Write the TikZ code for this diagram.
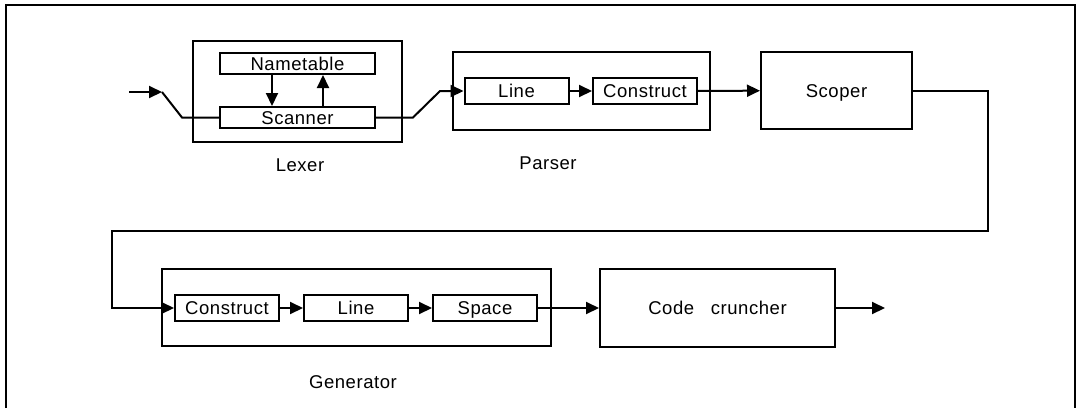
\documentclass[tikz,border=0pt]{standalone}
\usepackage{fontspec}
\setmainfont[LetterSpace=3]{Liberation Sans}
\usetikzlibrary{arrows.meta}
\tikzset{
	box/.style={draw, line width=2pt, inner sep=0pt, anchor=center,
		text height=13pt, text depth=0pt},
	lbl/.style={inner sep=0pt, anchor=center, text height=13pt, text depth=0pt},
	flow/.style={line width=2pt, -{Triangle[length=13pt,width=12pt]}},
	wire/.style={line width=2pt}
}
\begin{document}
\begin{tikzpicture}[x=1pt, y=-1pt, font=\fontsize{18.5}{20}\selectfont]
		\useasboundingbox (0,0) rectangle (1076,408);
		\draw[line width=2.4pt] (6,408) -- (6,5) -- (1075,5) -- (1075,408);
		% outer stages
		\foreach\n/\x/\y/\w/\h in{
			lexer/297.5/91.5/209/101,  parser/581.5/91/257/78,
			scoper/836.5/90.5/151/77,  generator/356.5/307.5/389/77,
			cruncher/717.5/308/235/78
		}{
			\node[box, minimum width=\w pt, minimum height=\h pt] (\n) at (\x,\y) {};
		}
		\node[lbl] at (scoper) {Scoper};
		\node[lbl] at (cruncher) {Code\hspace{0.9em}cruncher};
		% inner boxes
		\foreach\n/\t/\x/\y/\w in{
			nametable/Nametable/297.5/63.5/155,  scanner/Scanner/297.5/117.5/155
		}{
			\node[box, minimum width=\w pt, minimum height=21pt] (\n) at (\x,\y) {\t};
		}
		\foreach\n/\t/\x/\y in{
			pline/Line/516.5/91,  pconstruct/Construct/645/91,
			gconstruct/Construct/227/308,  gline/Line/356/308,  gspace/Space/485/308
		}{
			\node[box, minimum width=104pt, minimum height=26pt] (\n) at (\x,\y) {\t};
		}
		% stage names
		\node[lbl] (lexername) at (300,165) {Lexer};
		\node[lbl] (parsername) at (548,163) {Parser};
		\node[lbl] (genname) at (353,382) {Generator};
		% connectors
		\coordinate (in) at (129,92);
		\coordinate (inbend) at (162,92);
		\draw[flow] (in) -- (inbend);
		\draw[wire] (inbend) -- (182,117.5) -- (scanner.west);
		\draw[flow] (nametable.south -| 272,0) -- (scanner.north -| 272,0);
		\draw[flow] (scanner.north -| 323,0) -- (nametable.south -| 323,0);
		\draw[flow] (scanner.east) -- (413,117.5) -- (440,91) -- (pline.west);
		\draw[flow] (pline) -- (pconstruct);
		\draw[flow] (pconstruct) -- (scoper);
		\draw[flow] (scoper.east) -- (988,90.5) -- (988,231) -- (112,231) -- (112,308) -- (gconstruct.west);
		\draw[flow] (gconstruct) -- (gline);
		\draw[flow] (gline) -- (gspace);
		\draw[flow] (gspace) -- (cruncher);
		\coordinate (out) at (885,308);
		\draw[flow] (cruncher) -- (out);
	\end{tikzpicture}
\end{document}
